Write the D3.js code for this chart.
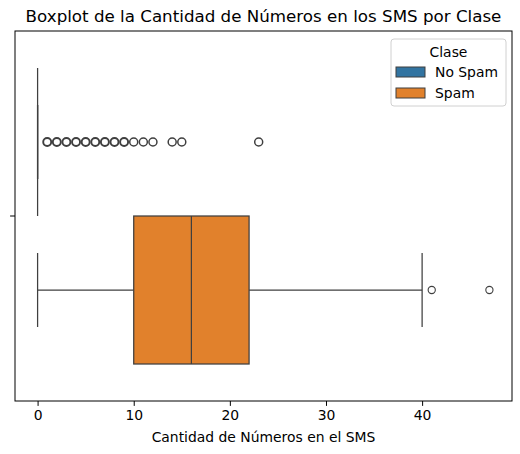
<!DOCTYPE html>
<html>
<head>
<meta charset="utf-8">
<script src="https://cdn.jsdelivr.net/npm/d3@7"></script>
<style>
  body { margin: 0; background: #fff; }
  text { font-family: "DejaVu Sans", sans-serif; fill: #000; }
</style>
</head>
<body>
<svg id="chart" width="520" height="454"></svg>
<script>
// Data
const classes = ['No Spam', 'Spam'];
const classColors = ['#3274a1', '#e1812c'];
// five-number summaries: whisker low, q1, median, q3, whisker high
const whiskerLow = [0, 0];
const q1 = [0, 10];
const median = [0, 16];
const q3 = [0, 22];
const whiskerHigh = [0, 40];
const fliersNoSpam = [1, 2, 3, 4, 5, 6, 7, 8, 9, 10, 11, 12, 14, 15, 23];
const fliersSpam = [41, 47];
const xTicks = [0, 10, 20, 30, 40];

const margin = { top: 31, right: 8, bottom: 53, left: 15 };
const width = 520 - margin.left - margin.right;
const height = 454 - margin.top - margin.bottom;
const lineColor = '#3f3f3f';

const svg = d3.select('#chart');
const g = svg.append('g')
    .attr('transform', `translate(${margin.left},${margin.top})`);

// x scale with matplotlib-like 5% margins
const xMax = 47;
const pad = xMax * 0.05;
const x = d3.scaleLinear().domain([-pad, xMax + pad]).range([0, width]);

// one category on y, with two dodged hue boxes
const y = d3.scaleLinear().domain([-0.5, 0.5]).range([0, height]);
const boxWidth = 0.4;
const centers = [-0.2, 0.2];

// title
svg.append('text')
    .attr('x', margin.left + width / 2)
    .attr('y', 22)
    .attr('text-anchor', 'middle')
    .style('font-size', '16.7px')
    .text('Boxplot de la Cantidad de Números en los SMS por Clase');

// boxes
classes.forEach((c, i) => {
    const cy = centers[i];
    const top = y(cy - boxWidth / 2);
    const bottom = y(cy + boxWidth / 2);
    const mid = y(cy);
    const capTop = y(cy - boxWidth / 4);
    const capBottom = y(cy + boxWidth / 4);
    const grp = g.append('g');

    // whiskers
    grp.append('line')
        .attr('x1', x(whiskerLow[i])).attr('x2', x(q1[i]))
        .attr('y1', mid).attr('y2', mid)
        .attr('stroke', lineColor).attr('stroke-width', 1.25);
    grp.append('line')
        .attr('x1', x(q3[i])).attr('x2', x(whiskerHigh[i]))
        .attr('y1', mid).attr('y2', mid)
        .attr('stroke', lineColor).attr('stroke-width', 1.25);
    // caps
    [whiskerLow[i], whiskerHigh[i]].forEach(v => {
        grp.append('line')
            .attr('x1', x(v)).attr('x2', x(v))
            .attr('y1', capTop).attr('y2', capBottom)
            .attr('stroke', lineColor).attr('stroke-width', 1.25);
    });
    // box
    grp.append('rect')
        .attr('x', x(q1[i]))
        .attr('y', top)
        .attr('width', Math.max(0, x(q3[i]) - x(q1[i])))
        .attr('height', bottom - top)
        .attr('fill', classColors[i])
        .attr('stroke', lineColor)
        .attr('stroke-width', 1.25);
    // median
    grp.append('line')
        .attr('x1', x(median[i])).attr('x2', x(median[i]))
        .attr('y1', top).attr('y2', bottom)
        .attr('stroke', lineColor).attr('stroke-width', 1.25);

    // fliers (the No Spam ones stack many identical values, so they look heavier)
    const fliers = i === 0 ? fliersNoSpam : fliersSpam;
    grp.selectAll('circle')
        .data(fliers)
        .enter()
        .append('circle')
        .attr('cx', d => x(d))
        .attr('cy', mid)
        .attr('r', i === 0 ? 4 : 3.6)
        .attr('fill', 'none')
        .attr('stroke', lineColor)
        .attr('stroke-width', d => i === 0 ? (d <= 9 ? 1.9 : 1.5) : 1.1);
});

// axes frame
g.append('rect')
    .attr('x', 0).attr('y', 0)
    .attr('width', width).attr('height', height)
    .attr('fill', 'none')
    .attr('stroke', '#000')
    .attr('stroke-width', 1);

// x axis
const xAxis = g.append('g')
    .attr('transform', `translate(0,${height})`)
    .call(d3.axisBottom(x).tickValues(xTicks).tickSize(4.9).tickPadding(4.5));
xAxis.select('.domain').remove();
xAxis.selectAll('line').attr('stroke', '#000').attr('stroke-width', 1);
xAxis.selectAll('text').style('font-size', '13.9px').attr('font-family', 'DejaVu Sans').attr('fill', '#000');

// y axis: single unlabeled tick
g.append('line')
    .attr('x1', -4.9).attr('x2', 0)
    .attr('y1', y(0)).attr('y2', y(0))
    .attr('stroke', '#000').attr('stroke-width', 1);

// x label
svg.append('text')
    .attr('x', margin.left + width / 2)
    .attr('y', 442)
    .attr('text-anchor', 'middle')
    .style('font-size', '13.9px')
    .text('Cantidad de Números en el SMS');

// legend
const legend = svg.append('g').attr('transform', 'translate(391,39)');
legend.append('rect')
    .attr('x', 0).attr('y', 0)
    .attr('width', 115).attr('height', 67)
    .attr('rx', 3)
    .attr('fill', '#fff').attr('fill-opacity', 0.8)
    .attr('stroke', '#d0d0d0').attr('stroke-width', 1);
legend.append('text')
    .attr('x', 57.5).attr('y', 18)
    .attr('text-anchor', 'middle')
    .style('font-size', '13.9px')
    .text('Clase');
classes.forEach((c, i) => {
    const ly = 28 + i * 21;
    legend.append('rect')
        .attr('x', 5).attr('y', ly)
        .attr('width', 29).attr('height', 10)
        .attr('fill', classColors[i])
        .attr('stroke', lineColor).attr('stroke-width', 1);
    legend.append('text')
        .attr('x', 44).attr('y', ly + 10)
        .style('font-size', '13.9px')
        .text(c);
});
</script>
</body>
</html>
